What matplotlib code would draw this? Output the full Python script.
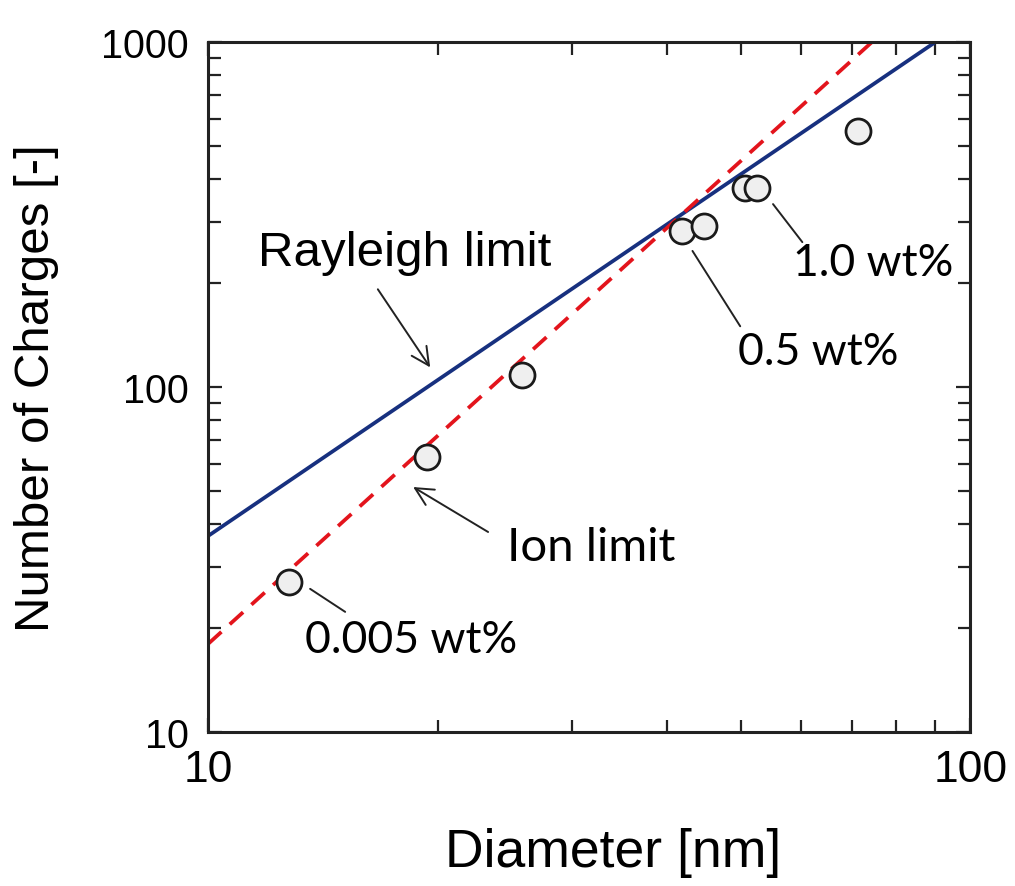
import matplotlib
matplotlib.use("Agg")
import matplotlib.pyplot as plt
from matplotlib.ticker import LogLocator, NullFormatter, FixedLocator, FixedFormatter

# measured particles (diameter nm, number of charges)
diameter = [12.75, 19.4, 25.8, 41.9, 44.7, 50.7, 52.5, 71.3]
charges = [27.3, 62.8, 108.4, 284, 293, 378, 378, 553]

# theoretical limits, straight lines on log-log axes (end points)
rayleigh_d = [10, 90]
rayleigh_n = [37, 1000]
ion_d = [10, 74.3]
ion_n = [18, 1000]

x_ticks = [10, 100]
y_ticks = [10, 100, 1000]

LABEL_FONT = "Liberation Sans"
NOTE_FONT = "Lato"

fig = plt.figure(figsize=(10.15, 8.87), dpi=100)
ax = fig.add_axes([0.205, 0.1736, 0.751, 0.7779])

ax.set_xscale("log")
ax.set_yscale("log")
ax.set_xlim(10, 100)
ax.set_ylim(10, 1000)

ax.plot(rayleigh_d, rayleigh_n, color="#17307f", lw=2.7, solid_capstyle="butt", zorder=2)
ax.plot(ion_d, ion_n, color="#e3141c", lw=2.7, dashes=(4.8, 3), zorder=2)
ax.plot(diameter, charges, "o", ms=18, mfc="#efefef", mec="#1a1a1a", mew=2.0, zorder=3)

# axes styling
for s in ax.spines.values():
    s.set_linewidth(2.2)
    s.set_color("#222222")
ax.xaxis.set_major_locator(FixedLocator(x_ticks))
ax.xaxis.set_major_formatter(FixedFormatter([str(v) for v in x_ticks]))
ax.yaxis.set_major_locator(FixedLocator(y_ticks))
ax.yaxis.set_major_formatter(FixedFormatter([str(v) for v in y_ticks]))
ax.xaxis.set_minor_locator(LogLocator(base=10, subs=range(2, 10)))
ax.yaxis.set_minor_locator(LogLocator(base=10, subs=range(2, 10)))
ax.xaxis.set_minor_formatter(NullFormatter())
ax.yaxis.set_minor_formatter(NullFormatter())
ax.tick_params(which="both", direction="in", top=True, right=True, width=1.6, color="#222222")
ax.tick_params(which="major", length=10)
ax.tick_params(which="minor", length=9)
ax.tick_params(axis="x", which="major", labelsize=32, pad=12)
ax.tick_params(axis="y", which="major", labelsize=28.5, pad=14)
for lab in ax.get_xticklabels() + ax.get_yticklabels():
    lab.set_fontfamily(LABEL_FONT)

ax.set_xlabel("Diameter [nm]", fontsize=38.5, family=LABEL_FONT)
ax.xaxis.set_label_coords(0.531, -0.138)
ax.set_ylabel("Number of Charges [-]", fontsize=35.5, family=LABEL_FONT, labelpad=30)

# annotations
arrow = dict(arrowstyle="->", color="#222222", lw=1.4, mutation_scale=32, shrinkA=0, shrinkB=0)
ax.annotate("", xy=(19.56, 114), xytext=(16.7, 192), arrowprops=arrow)
ax.text(11.63, 246, "Rayleigh limit", fontsize=35.5, family=LABEL_FONT, ha="left", va="center")

ax.annotate("", xy=(18.58, 51.3), xytext=(23.3, 38.0), arrowprops=arrow)
ax.text(24.7, 34.4, "Ion limit", fontsize=34, family=NOTE_FONT, ha="left", va="center")

plain = dict(arrowstyle="-", color="#222222", lw=1.4, shrinkA=0, shrinkB=0)
ax.annotate("", xy=(15.13, 22.3), xytext=(13.61, 26.0), arrowprops=plain)
ax.text(13.4, 18.6, "0.005 wt%", fontsize=32, family=NOTE_FONT, ha="left", va="center")

ax.annotate("", xy=(49.9, 150), xytext=(43.2, 248), arrowprops=plain)
ax.text(49.5, 127, "0.5 wt%", fontsize=32, family=NOTE_FONT, ha="left", va="center")

ax.annotate("", xy=(60.2, 263), xytext=(55.1, 339), arrowprops=plain)
ax.text(58.6, 230, "1.0 wt%", fontsize=32, family=NOTE_FONT, ha="left", va="center")

fig.savefig("out.png", dpi=100)
